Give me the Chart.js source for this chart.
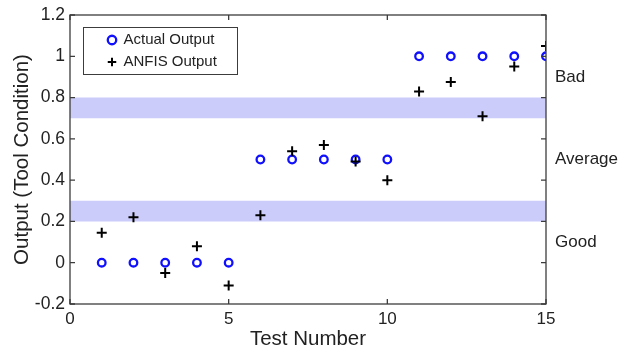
<!DOCTYPE html>
<html>
<head>
<meta charset="utf-8">
<title>ANFIS output vs actual output</title>
<script src="https://cdn.jsdelivr.net/npm/chart.js@4.4.0/dist/chart.umd.min.js"></script>
<style>
  html, body { margin: 0; padding: 0; background: #fff; }
  #wrap { position: relative; width: 620px; height: 351px; }
</style>
</head>
<body>
<div id="wrap"><canvas id="chart"></canvas></div>
<script>
  // data
  const testNumbers = [1, 2, 3, 4, 5, 6, 7, 8, 9, 10, 11, 12, 13, 14, 15];
  const actualOutput = [0, 0, 0, 0, 0, 0.5, 0.5, 0.5, 0.5, 0.5, 1, 1, 1, 1, 1];
  const anfisOutput = [0.145, 0.22, -0.05, 0.08, -0.11, 0.23, 0.54, 0.57, 0.49, 0.40, 0.83, 0.875, 0.71, 0.95, 1.05];

  // shaded boundary bands between tool conditions
  const bandLows = [0.2, 0.7];
  const bandHighs = [0.3, 0.8];

  const xRange = [0, 15];
  const yRange = [-0.2, 1.2];
  const xTickStep = 5;
  const yTickStep = 0.2;

  const conditionLabels = ['Good', 'Average', 'Bad'];
  const conditionValues = [0.1, 0.5, 0.9];

  const BLUE = '#1010ff';
  const BAND = '#ccccfb';
  const AXIS = '#3c3c3c';

  Chart.defaults.font.family = '"Liberation Sans", Arial, sans-serif';
  Chart.defaults.color = '#222';

  function toPoints(ys) {
    return testNumbers.map((x, i) => ({ x, y: ys[i] }));
  }

  // fixed axis sizes so the plot box lands where it does in the original
  function fixSize(w, h) {
    return (s) => {
      if (w != null) s.width = w;
      if (h != null) s.height = h;
      s.paddingTop = 0; s.paddingBottom = 0;
      s.paddingLeft = 0; s.paddingRight = 0;
    };
  }

  const bandDatasets = bandLows.map((lo, i) => ({
    label: 'band',
    data: [{ x: xRange[0], y: bandHighs[i] }, { x: xRange[1], y: bandHighs[i] }],
    showLine: true,
    borderWidth: 0,
    borderColor: 'rgba(0,0,0,0)',
    pointRadius: 0,
    backgroundColor: BAND,
    fill: { value: lo },
    order: 2
  }));

  // box frame with inward ticks, MATLAB style
  const framePlugin = {
    id: 'frame',
    afterDatasetsDraw(chart) {
      const { ctx, chartArea: a, scales } = chart;
      const len = 5;
      ctx.save();
      ctx.strokeStyle = AXIS;
      ctx.lineWidth = 1.3;
      ctx.strokeRect(a.left, a.top, a.width, a.height);
      ctx.beginPath();
      scales.x.ticks.forEach((t) => {
        const px = scales.x.getPixelForValue(t.value);
        ctx.moveTo(px, a.bottom); ctx.lineTo(px, a.bottom - len);
        ctx.moveTo(px, a.top); ctx.lineTo(px, a.top + len);
      });
      scales.y.ticks.forEach((t) => {
        const py = scales.y.getPixelForValue(t.value);
        ctx.moveTo(a.left, py); ctx.lineTo(a.left + len, py);
        ctx.moveTo(a.right, py); ctx.lineTo(a.right - len, py);
      });
      ctx.stroke();
      ctx.restore();
    }
  };

  // put the in-plot legend below/right of the corner and draw its box
  const legendBoxPlugin = {
    id: 'legendBox',
    afterLayout(chart) {
      const lg = chart.legend;
      const a = chart.chartArea;
      const w = lg.right - lg.left, h = lg.bottom - lg.top;
      lg.left = a.left + 31; lg.right = lg.left + w;
      lg.top = a.top + 10.5; lg.bottom = lg.top + h;
    },
    afterDraw(chart) {
      const lg = chart.legend;
      const ctx = chart.ctx;
      const left = Math.round(lg.left - 18) + 0.5;
      const top = Math.round(lg.top + 1.5) + 0.5;
      ctx.save();
      ctx.strokeStyle = AXIS;
      ctx.lineWidth = 1;
      ctx.strokeRect(left, top, 154, 47);
      ctx.restore();
    }
  };

  new Chart(document.getElementById('chart'), {
    type: 'scatter',
    data: {
      datasets: [
        {
          label: 'Actual Output',
          data: toPoints(actualOutput),
          pointStyle: 'circle',
          pointRadius: 3.8,
          borderWidth: 2.3,
          borderColor: BLUE,
          backgroundColor: 'rgba(0,0,0,0)',
          order: 1
        },
        {
          label: 'ANFIS Output',
          data: toPoints(anfisOutput),
          pointStyle: 'cross',
          pointRadius: 5,
          borderWidth: 2,
          borderColor: '#000',
          backgroundColor: '#000',
          order: 0
        },
        ...bandDatasets
      ]
    },
    options: {
      responsive: true,
      maintainAspectRatio: false,
      animation: false,
      layout: { padding: { top: 15, left: 0, right: 0, bottom: 0 } },
      plugins: {
        legend: {
          position: 'chartArea',
          align: 'start',
          labels: {
            usePointStyle: true,
            boxWidth: 8,
            boxHeight: 6,
            padding: 7,
            font: { size: 15 },
            color: '#222',
            filter: (item) => item.text !== 'band',
            sort: (a, b) => a.datasetIndex - b.datasetIndex
          }
        },
        tooltip: { enabled: false }
      },
      scales: {
        x: {
          type: 'linear',
          min: xRange[0],
          max: xRange[1],
          grid: { display: false, drawTicks: false },
          border: { display: false },
          ticks: { stepSize: xTickStep, padding: 5, font: { size: 17 }, maxRotation: 0 },
          title: { display: true, text: 'Test Number', font: { size: 20.5, lineHeight: 1.1 }, padding: { top: 0, bottom: 0 } },
          afterFit: fixSize(null, 47)
        },
        y: {
          type: 'linear',
          min: yRange[0],
          max: yRange[1],
          grid: { display: false, drawTicks: false },
          border: { display: false },
          ticks: {
            stepSize: yTickStep,
            padding: 5,
            font: { size: 17.5 },
            callback: (v) => String(Math.round(v * 10) / 10)
          },
          title: { display: true, text: 'Output (Tool Condition)', font: { size: 20.5, lineHeight: 1.1 }, padding: { top: 11.5, bottom: 0 } },
          afterFit: fixSize(70, null)
        },
        y2: {
          type: 'linear',
          position: 'right',
          min: yRange[0],
          max: yRange[1],
          grid: { display: false, drawTicks: false },
          border: { display: false },
          afterBuildTicks: (s) => { s.ticks = conditionValues.map((v) => ({ value: v })); },
          ticks: {
            padding: 9,
            font: { size: 17 },
            callback: (v, i) => conditionLabels[i]
          },
          afterFit: fixSize(74, null)
        }
      }
    },
    plugins: [framePlugin, legendBoxPlugin]
  });
</script>
</body>
</html>
